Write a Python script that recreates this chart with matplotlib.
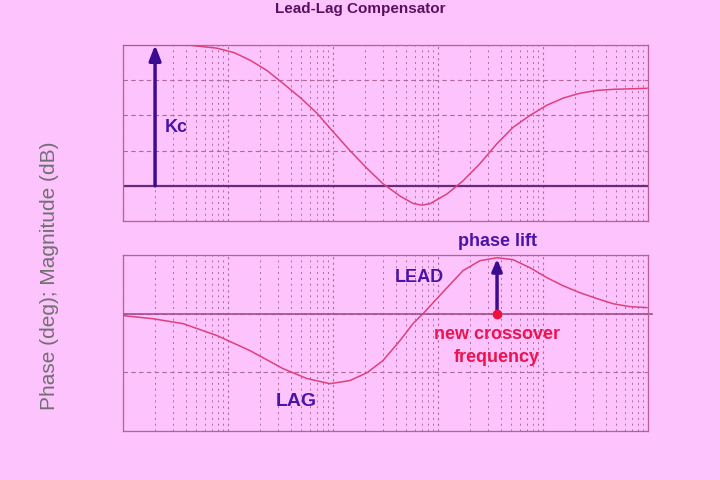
import numpy as np
import matplotlib
matplotlib.use("Agg")
import matplotlib.pyplot as plt
from matplotlib.ticker import LogLocator, NullFormatter, MultipleLocator

# ---- data ----
mag_freq = [0.01, 0.041, 0.0785, 0.115, 0.162, 0.234, 0.334, 0.49, 0.705, 1.0, 1.45, 2.1,
            2.99, 4.34, 5.78, 7.0, 8.39, 12.2, 17.3, 25.1, 36.5, 51.8, 75.2, 109,
            155, 225, 327, 464, 977]
mag_db = [40, 40, 39.1, 37.8, 35.7, 32.8, 29.1, 25.0, 20.6, 15.4, 10, 5.0,
          0.6, -2.9, -5.0, -5.5, -5.1, -2.3, 1.4, 6.3, 12, 16.6, 20, 22.9,
          24.9, 26.3, 27.1, 27.4, 27.7]

ph_freq = [0.01, 0.0193, 0.0373, 0.0785, 0.162, 0.334, 0.566, 0.936, 1.45, 2.11,
           2.99, 4.34, 5.78, 7.2, 9.5, 12.2, 17.3, 25.1, 36.5, 51.8, 75.2, 109, 155,
           225, 327, 464, 670, 977]
ph_deg = [-1.0, -2.6, -5.1, -11.2, -18.9, -28.1, -33.2, -35.8, -34.2, -30.2,
          -24.0, -13.8, -5.1, 0, 7.0, 13.3, 22.0, 27.1, 28.6, 27.6, 23.5, 18.4, 14.3,
          10.7, 7.7, 5.1, 3.6, 3.1]

kc_freq = 0.0202
kc_from, kc_to = 0, 40
xover_freq = 36.5
lift_to = 28.0

title = "Lead-Lag Compensator"
ylabel = "Phase (deg); Magnitude (dB)"

BG = "#fcc3fc"
CURVE = "#e0407a"
GRID = "#b06a9a"
SPINE = "#b8609a"
ARROW = "#3c0c90"
PURP_TXT = "#4a14a8"
RED_TXT = "#ea1450"

fig = plt.figure(figsize=(7.2, 4.8), dpi=100, facecolor=BG)
plt.rcParams['font.family'] = ['Liberation Sans', 'DejaVu Sans']

W, H = 720, 480
def rect(x0, y0, x1, y1):
    return [x0 / W, 1 - y1 / H, (x1 - x0) / W, (y1 - y0) / H]

ax1 = fig.add_axes(rect(123, 45, 648, 221))
ax2 = fig.add_axes(rect(123, 255, 648, 431))

for ax in (ax1, ax2):
    ax.set_facecolor(BG)
    ax.set_xscale('log')
    ax.set_xlim(0.01, 1000)
    ax.xaxis.set_major_locator(LogLocator(base=10, numticks=10))
    ax.xaxis.set_minor_locator(LogLocator(base=10, subs=np.arange(2, 10), numticks=20))
    ax.xaxis.set_major_formatter(NullFormatter())
    ax.xaxis.set_minor_formatter(NullFormatter())
    ax.tick_params(which='both', length=0, labelleft=False, labelbottom=False)
    ax.grid(True, which='major', axis='x', color=GRID, ls=(0, (2, 3)), lw=0.8)
    ax.grid(True, which='minor', axis='x', color=GRID, ls=(0, (2, 4)), lw=0.7)
    ax.grid(True, which='major', axis='y', color=GRID, ls=(0, (4, 3)), lw=0.8)
    for s in ax.spines.values():
        s.set_color(SPINE)
        s.set_linewidth(0.9)

# magnitude
ax1.set_ylim(-10, 40)
ax1.yaxis.set_major_locator(MultipleLocator(10))
ax1.set_yticklabels([])
ax1.axhline(0, color="#6a2a7a", lw=1.6, zorder=2)
ax1.plot(mag_freq, mag_db, color=CURVE, lw=1.1, zorder=3)
ax1.annotate("", xy=(kc_freq, kc_to), xytext=(kc_freq, kc_from),
             arrowprops=dict(arrowstyle="-|>,head_length=0.9,head_width=0.35",
                             color=ARROW, lw=2.5, shrinkA=0, shrinkB=0), zorder=4)
ax1.text(0.025, 16.6, "Kc", color=PURP_TXT, fontsize=13, fontweight='bold',
         ha='left', va='center')

# phase
ax2.set_ylim(-60, 30)
ax2.yaxis.set_major_locator(MultipleLocator(30))
ax2.set_yticklabels([])
ax2.axhline(0, color="#a0508c", lw=1.2, zorder=2)
ax2.plot([1000, 1100], [0, 0], color="#a0508c", lw=1.2, clip_on=False)
ax2.plot(ph_freq, ph_deg, color=CURVE, lw=1.1, zorder=3)
ax2.annotate("", xy=(xover_freq, lift_to), xytext=(xover_freq, 0),
             arrowprops=dict(arrowstyle="-|>,head_length=0.7,head_width=0.3",
                             color=ARROW, lw=2.5, shrinkA=0, shrinkB=0), zorder=4)
ax2.plot([xover_freq], [0], 'o', color="#f01040", ms=6, zorder=5)
ax2.text(xover_freq, 37, "phase lift", color=PURP_TXT, fontsize=13,
         fontweight='bold', ha='center', va='center', clip_on=False)
ax2.text(6.6, 18.5, "LEAD", color=PURP_TXT, fontsize=13, fontweight='bold',
         ha='center', va='center')
ax2.text(xover_freq, -16.5, "new crossover\nfrequency", color=RED_TXT, fontsize=13,
         fontweight='bold', ha='center', va='center', linespacing=1.4)
ax2.text(0.445, -45, "LAG", color=PURP_TXT, fontsize=14, fontweight='bold',
         ha='center', va='center')

fig.text(0.5, 1 - 9 / H, title, color="#5a1060", fontsize=11, fontweight='bold',
         ha='center', va='center')
fig.text(50 / W, 1 - 276 / H, ylabel, color="#707070", fontsize=15,
         rotation=90, ha='center', va='center')

fig.savefig("out.png", dpi=100, facecolor=BG)
